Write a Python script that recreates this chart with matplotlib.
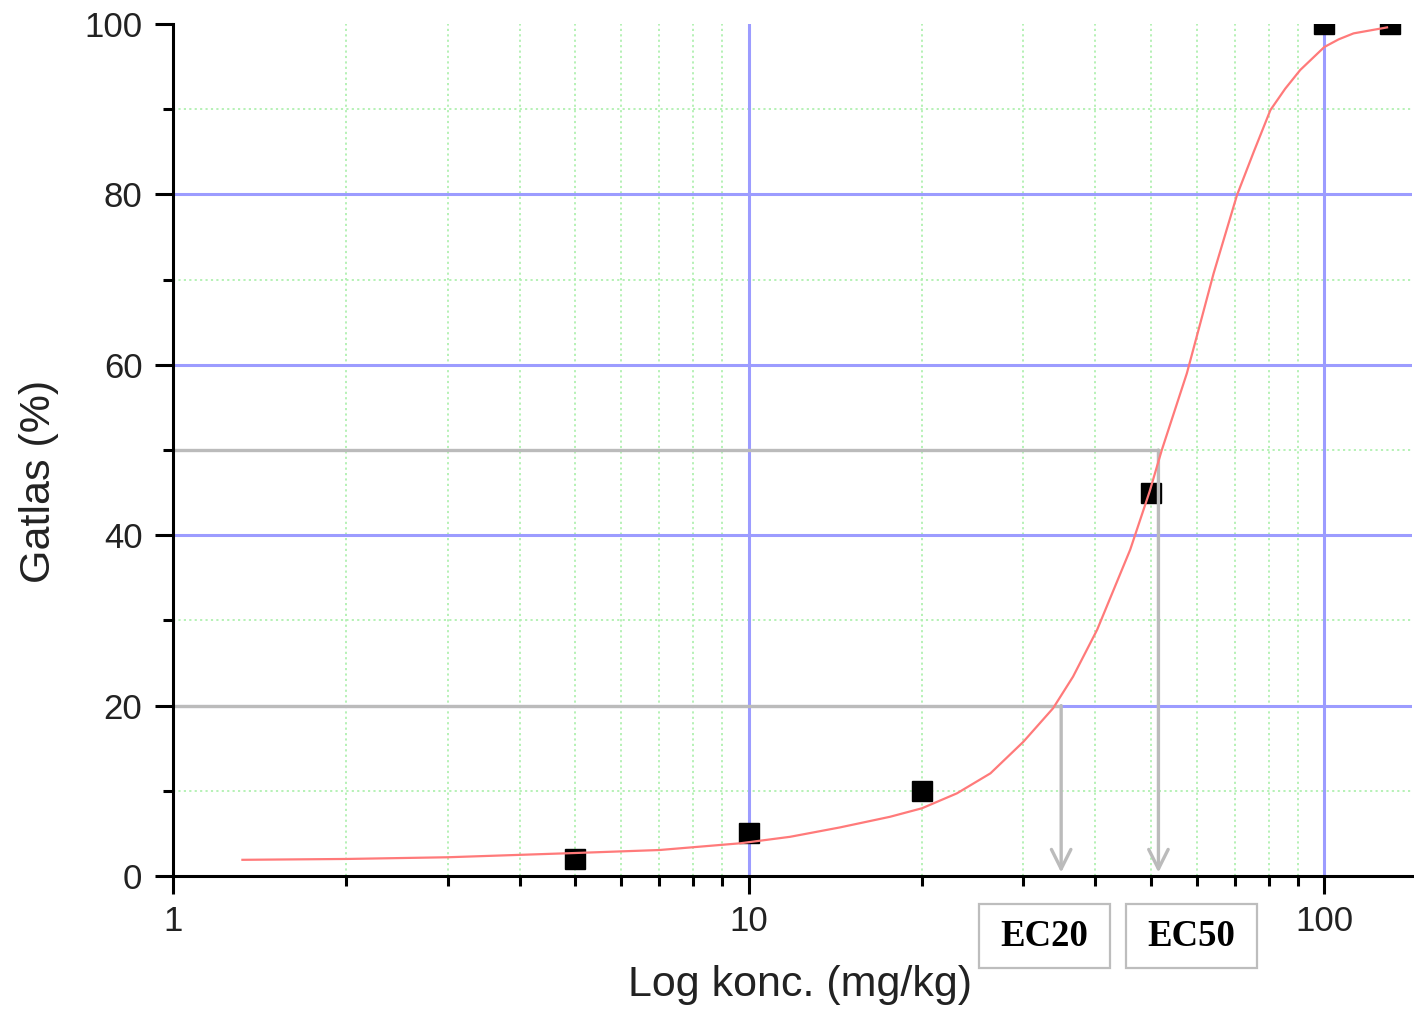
import numpy as np
import matplotlib.pyplot as plt
from matplotlib.patches import Rectangle
from matplotlib.ticker import FixedLocator, NullFormatter

# measured points
conc = [5, 10, 20, 50, 100, 130]
gatlas = [2, 5, 10, 45, 100, 100]

# fitted curve
fit_x = [1.32, 2.0, 3.0, 5.0, 7.0, 9.67, 11.8, 14.4, 17.6, 20.0, 23.0, 26.3,
         30.0, 33.8, 36.6, 40.3, 46.0, 49.7, 52.2, 57.7, 60.9, 64.2, 70.5,
         75.4, 80.6, 85.5, 90.8, 100.0, 105.9, 112.4, 128.5]
fit_y = [1.9, 2.0, 2.2, 2.7, 3.05, 3.84, 4.6, 5.7, 6.95, 7.95, 9.7, 12.05,
         15.75, 19.7, 23.4, 28.9, 38.3, 45.1, 50.0, 59.0, 64.9, 70.7, 79.9,
         85.0, 89.9, 92.4, 94.6, 97.3, 98.2, 98.9, 99.6]

ec_levels = [20, 50]
ec_conc = [34.9, 51.5]
ec_labels = ['EC20', 'EC50']

x_major = [1, 10, 100]
x_minor = [2, 3, 4, 5, 6, 7, 8, 9, 20, 30, 40, 50, 60, 70, 80, 90]
y_major = [0, 20, 40, 60, 80, 100]
y_minor = [10, 30, 50, 70, 90]

plt.rcParams['font.family'] = ['Liberation Sans', 'DejaVu Sans']

fig = plt.figure(figsize=(14.14, 10.09), dpi=100)
ax = fig.add_axes([0.12235, 0.13181, 0.87624, 0.8444])
ax.set_xscale('log')
ax.set_xlim(1, 142)
ax.set_ylim(0, 100)

# grid
for v in x_minor:
    ax.axvline(v, color='#b0f0b0', lw=1.3, ls=(0, (1.2, 1.8)), zorder=1)
for v in y_minor:
    ax.axhline(v, color='#b0f0b0', lw=1.3, ls=(0, (1.2, 1.8)), zorder=1)
for v in x_major[1:]:
    ax.axvline(v, color='#9c9cff', lw=2.2, zorder=1.5)
for v in y_major[1:-1]:
    ax.axhline(v, color='#9c9cff', lw=2.2, zorder=1.5)

ax.plot(conc, gatlas, 's', color='black', markersize=14, zorder=3)

# EC guide lines
for lvl, c in zip(ec_levels, ec_conc):
    ax.plot([1, c], [lvl, lvl], color='#bbbbbb', lw=2.4, solid_capstyle='butt', zorder=4)
    ax.annotate('', xy=(c, 0.4), xytext=(c, lvl),
                arrowprops=dict(arrowstyle='->,head_length=1.0,head_width=0.5',
                                color='#bbbbbb', lw=2.4, mutation_scale=14,
                                shrinkA=0, shrinkB=0), zorder=4)

ax.plot(fit_x, fit_y, color='#ff7a7a', lw=1.6, zorder=5)

# axes styling
for s in ['top', 'right']:
    ax.spines[s].set_visible(False)
for s in ['left', 'bottom']:
    ax.spines[s].set_linewidth(2.2)
    ax.spines[s].set_zorder(6)

ax.xaxis.set_major_locator(FixedLocator(x_major))
ax.xaxis.set_minor_locator(FixedLocator(x_minor))
ax.xaxis.set_minor_formatter(NullFormatter())
ax.set_xticklabels([str(v) for v in x_major])
ax.yaxis.set_major_locator(FixedLocator(y_major))
ax.yaxis.set_minor_locator(FixedLocator(y_minor))

ax.tick_params(which='major', direction='out', length=13, width=2.2,
               labelsize=25, labelcolor='#222222')
ax.tick_params(axis='x', which='major', pad=8)
ax.tick_params(axis='y', which='major', pad=9)
ax.tick_params(which='minor', direction='out', length=7, width=2.2)

ax.set_xlabel('Log konc. (mg/kg)', fontsize=31, color='#222222')
ax.set_ylabel('Gatlas (%)', fontsize=31, color='#222222')
ax.xaxis.set_label_coords(0.506, -0.105)
ax.yaxis.set_label_coords(-0.092, 0.4636)

# EC label boxes
box_x = [0.6924, 0.7963]
for bx, lab in zip(box_x, ec_labels):
    fig.add_artist(Rectangle((bx, 0.0406), 0.0928, 0.0634, transform=fig.transFigure,
                             facecolor='white', edgecolor='#bdbdbd', lw=1.6))
    fig.text(bx + 0.0464, 0.0723, lab, ha='center', va='center', fontsize=26.5,
             fontweight='bold', family=['Liberation Serif', 'DejaVu Serif'])

fig.savefig('out.png', dpi=100)
